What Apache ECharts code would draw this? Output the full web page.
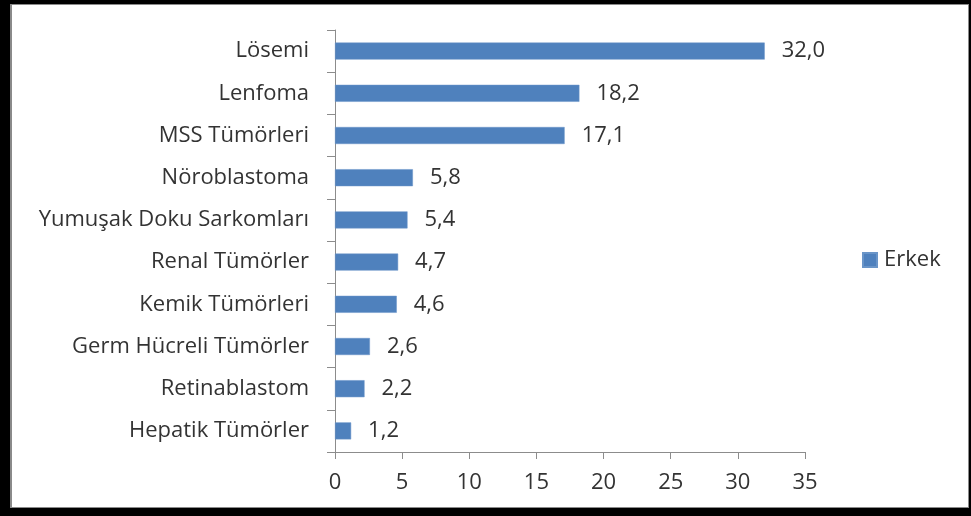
<!DOCTYPE html>
<html>
<head>
<meta charset="utf-8">
<script src="https://cdn.jsdelivr.net/npm/echarts@6/dist/echarts.min.js"></script>
<style>
  html, body { margin: 0; padding: 0; background: #fff; }
  #wrap { position: relative; width: 971px; height: 516px; }
  #chart { position: absolute; left: 0; top: 0; width: 971px; height: 516px; }
  #frame {
    position: absolute; left: 0; top: 0; width: 971px; height: 516px;
    box-sizing: border-box; pointer-events: none;
    border-style: solid; border-color: #000;
    border-width: 4px 2px 8px 10px;
  }
  #frame::after {
    content: ""; position: absolute; left: 0; top: 0; right: 0; bottom: 0;
    border: 1px solid #8a8a8a; border-width: 1px 1px 1px 2px;
  }
</style>
</head>
<body>
<div id="wrap">
  <div id="chart"></div>
  <div id="frame"></div>
</div>
<script>
// Categories listed bottom to top, as a category y-axis draws them
const categories = [
  'Hepatik Tümörler',
  'Retinablastom',
  'Germ Hücreli Tümörler',
  'Kemik Tümörleri',
  'Renal Tümörler',
  'Yumuşak Doku Sarkomları',
  'Nöroblastoma',
  'MSS Tümörleri',
  'Lenfoma',
  'Lösemi'
];
const erkek = [1.2, 2.2, 2.6, 4.6, 4.7, 5.4, 5.8, 17.1, 18.2, 32.0];
const xTicks = [0, 5, 10, 15, 20, 25, 30, 35];

const font = 'Open Sans';
const textColor = '#333333';
const axisColor = '#8c8c8c';

const chart = echarts.init(document.getElementById('chart'));
chart.setOption({
  animation: false,
  backgroundColor: '#fff',
  textStyle: { fontFamily: font },
  grid: { left: 335, right: 166, top: 30, bottom: 64, containLabel: false },
  legend: {
    data: ['Erkek'],
    orient: 'vertical',
    left: 862,
    top: 249,
    padding: 0,
    itemWidth: 14,
    itemHeight: 14,
    itemGap: 5,
    icon: 'rect',
    textStyle: { fontFamily: font, fontSize: 22, color: textColor, padding: [0, 0, 0, 2] }
  },
  xAxis: {
    type: 'value',
    min: xTicks[0],
    max: xTicks[xTicks.length - 1],
    interval: 5,
    splitLine: { show: false },
    axisLine: { show: true, lineStyle: { color: axisColor, width: 1 } },
    axisTick: { show: true, length: 7, lineStyle: { color: axisColor } },
    axisLabel: { fontFamily: font, fontSize: 22, color: textColor, margin: 20 }
  },
  yAxis: {
    type: 'category',
    data: categories,
    axisLine: { show: true, lineStyle: { color: axisColor, width: 1 } },
    axisTick: { show: true, length: 8, alignWithLabel: false, lineStyle: { color: axisColor } },
    axisLabel: { fontFamily: font, fontSize: 22, color: textColor, margin: 26 }
  },
  series: [{
    name: 'Erkek',
    type: 'bar',
    data: erkek,
    barWidth: 17,
    itemStyle: { color: '#4f81bd', borderColor: '#6a95c8', borderWidth: 0.5 },
    label: {
      show: true,
      position: 'right',
      distance: 17,
      fontFamily: font,
      fontSize: 22,
      color: textColor,
      formatter: p => p.value.toFixed(1).replace('.', ',')
    }
  }]
});
</script>
</body>
</html>
